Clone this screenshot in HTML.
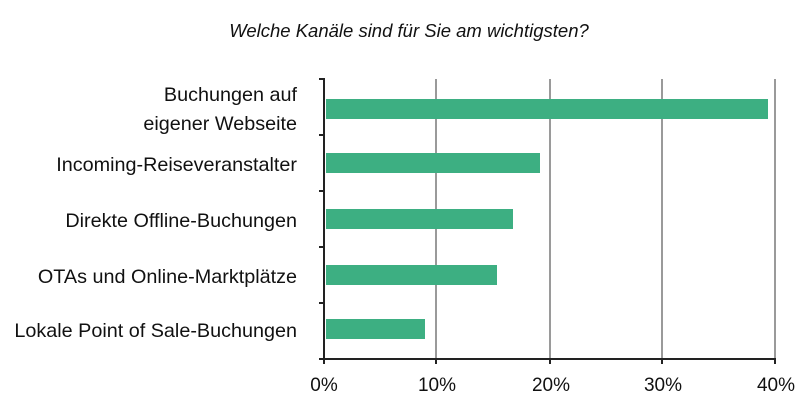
<!DOCTYPE html>
<html><head><meta charset="utf-8"><style>
body{margin:0;background:#fff;width:800px;height:400px;overflow:hidden}
svg{display:block;font-family:"Liberation Sans",sans-serif}
</style></head><body>
<svg width="800" height="400" xmlns="http://www.w3.org/2000/svg">
<text x="409" y="37" text-anchor="middle" font-size="18.5" font-style="italic" fill="#111">Welche Kanäle sind für Sie am wichtigsten?</text>
<g stroke="#9a9a9a" stroke-width="2">
<line x1="436" y1="79" x2="436" y2="359"/>
<line x1="550" y1="79" x2="550" y2="359"/>
<line x1="662" y1="79" x2="662" y2="359"/>
<line x1="775" y1="79" x2="775" y2="359"/>
</g>
<g fill="#3daf82">
<rect x="326" y="99" width="442" height="20"/>
<rect x="326" y="153" width="214" height="20"/>
<rect x="326" y="209" width="187" height="20"/>
<rect x="326" y="265" width="171" height="20"/>
<rect x="326" y="319" width="99" height="20"/>
</g>
<g stroke="#222" stroke-width="2">
<line x1="324" y1="78" x2="324" y2="360"/>
<line x1="323" y1="359" x2="776" y2="359"/>
<line x1="319" y1="79" x2="324" y2="79"/>
<line x1="319" y1="135" x2="324" y2="135"/>
<line x1="319" y1="191" x2="324" y2="191"/>
<line x1="319" y1="247" x2="324" y2="247"/>
<line x1="319" y1="303" x2="324" y2="303"/>
<line x1="319" y1="359" x2="324" y2="359"/>
<line x1="324" y1="359" x2="324" y2="364"/>
<line x1="436" y1="359" x2="436" y2="364"/>
<line x1="550" y1="359" x2="550" y2="364"/>
<line x1="662" y1="359" x2="662" y2="364"/>
<line x1="775" y1="359" x2="775" y2="364"/>
</g>
<g font-size="19.8" fill="#111" text-anchor="end">
<text x="297" y="101">Buchungen auf</text>
<text x="297" y="130">eigener Webseite</text>
<text x="297" y="171">Incoming-Reiseveranstalter</text>
<text x="297" y="227">Direkte Offline-Buchungen</text>
<text x="297" y="283">OTAs und Online-Marktplätze</text>
<text x="297" y="337">Lokale Point of Sale-Buchungen</text>
</g>
<g font-size="19" fill="#111" text-anchor="middle">
<text x="324" y="391">0%</text>
<text x="437" y="391">10%</text>
<text x="551" y="391">20%</text>
<text x="663" y="391">30%</text>
<text x="776" y="391">40%</text>
</g>
</svg>
</body></html>
